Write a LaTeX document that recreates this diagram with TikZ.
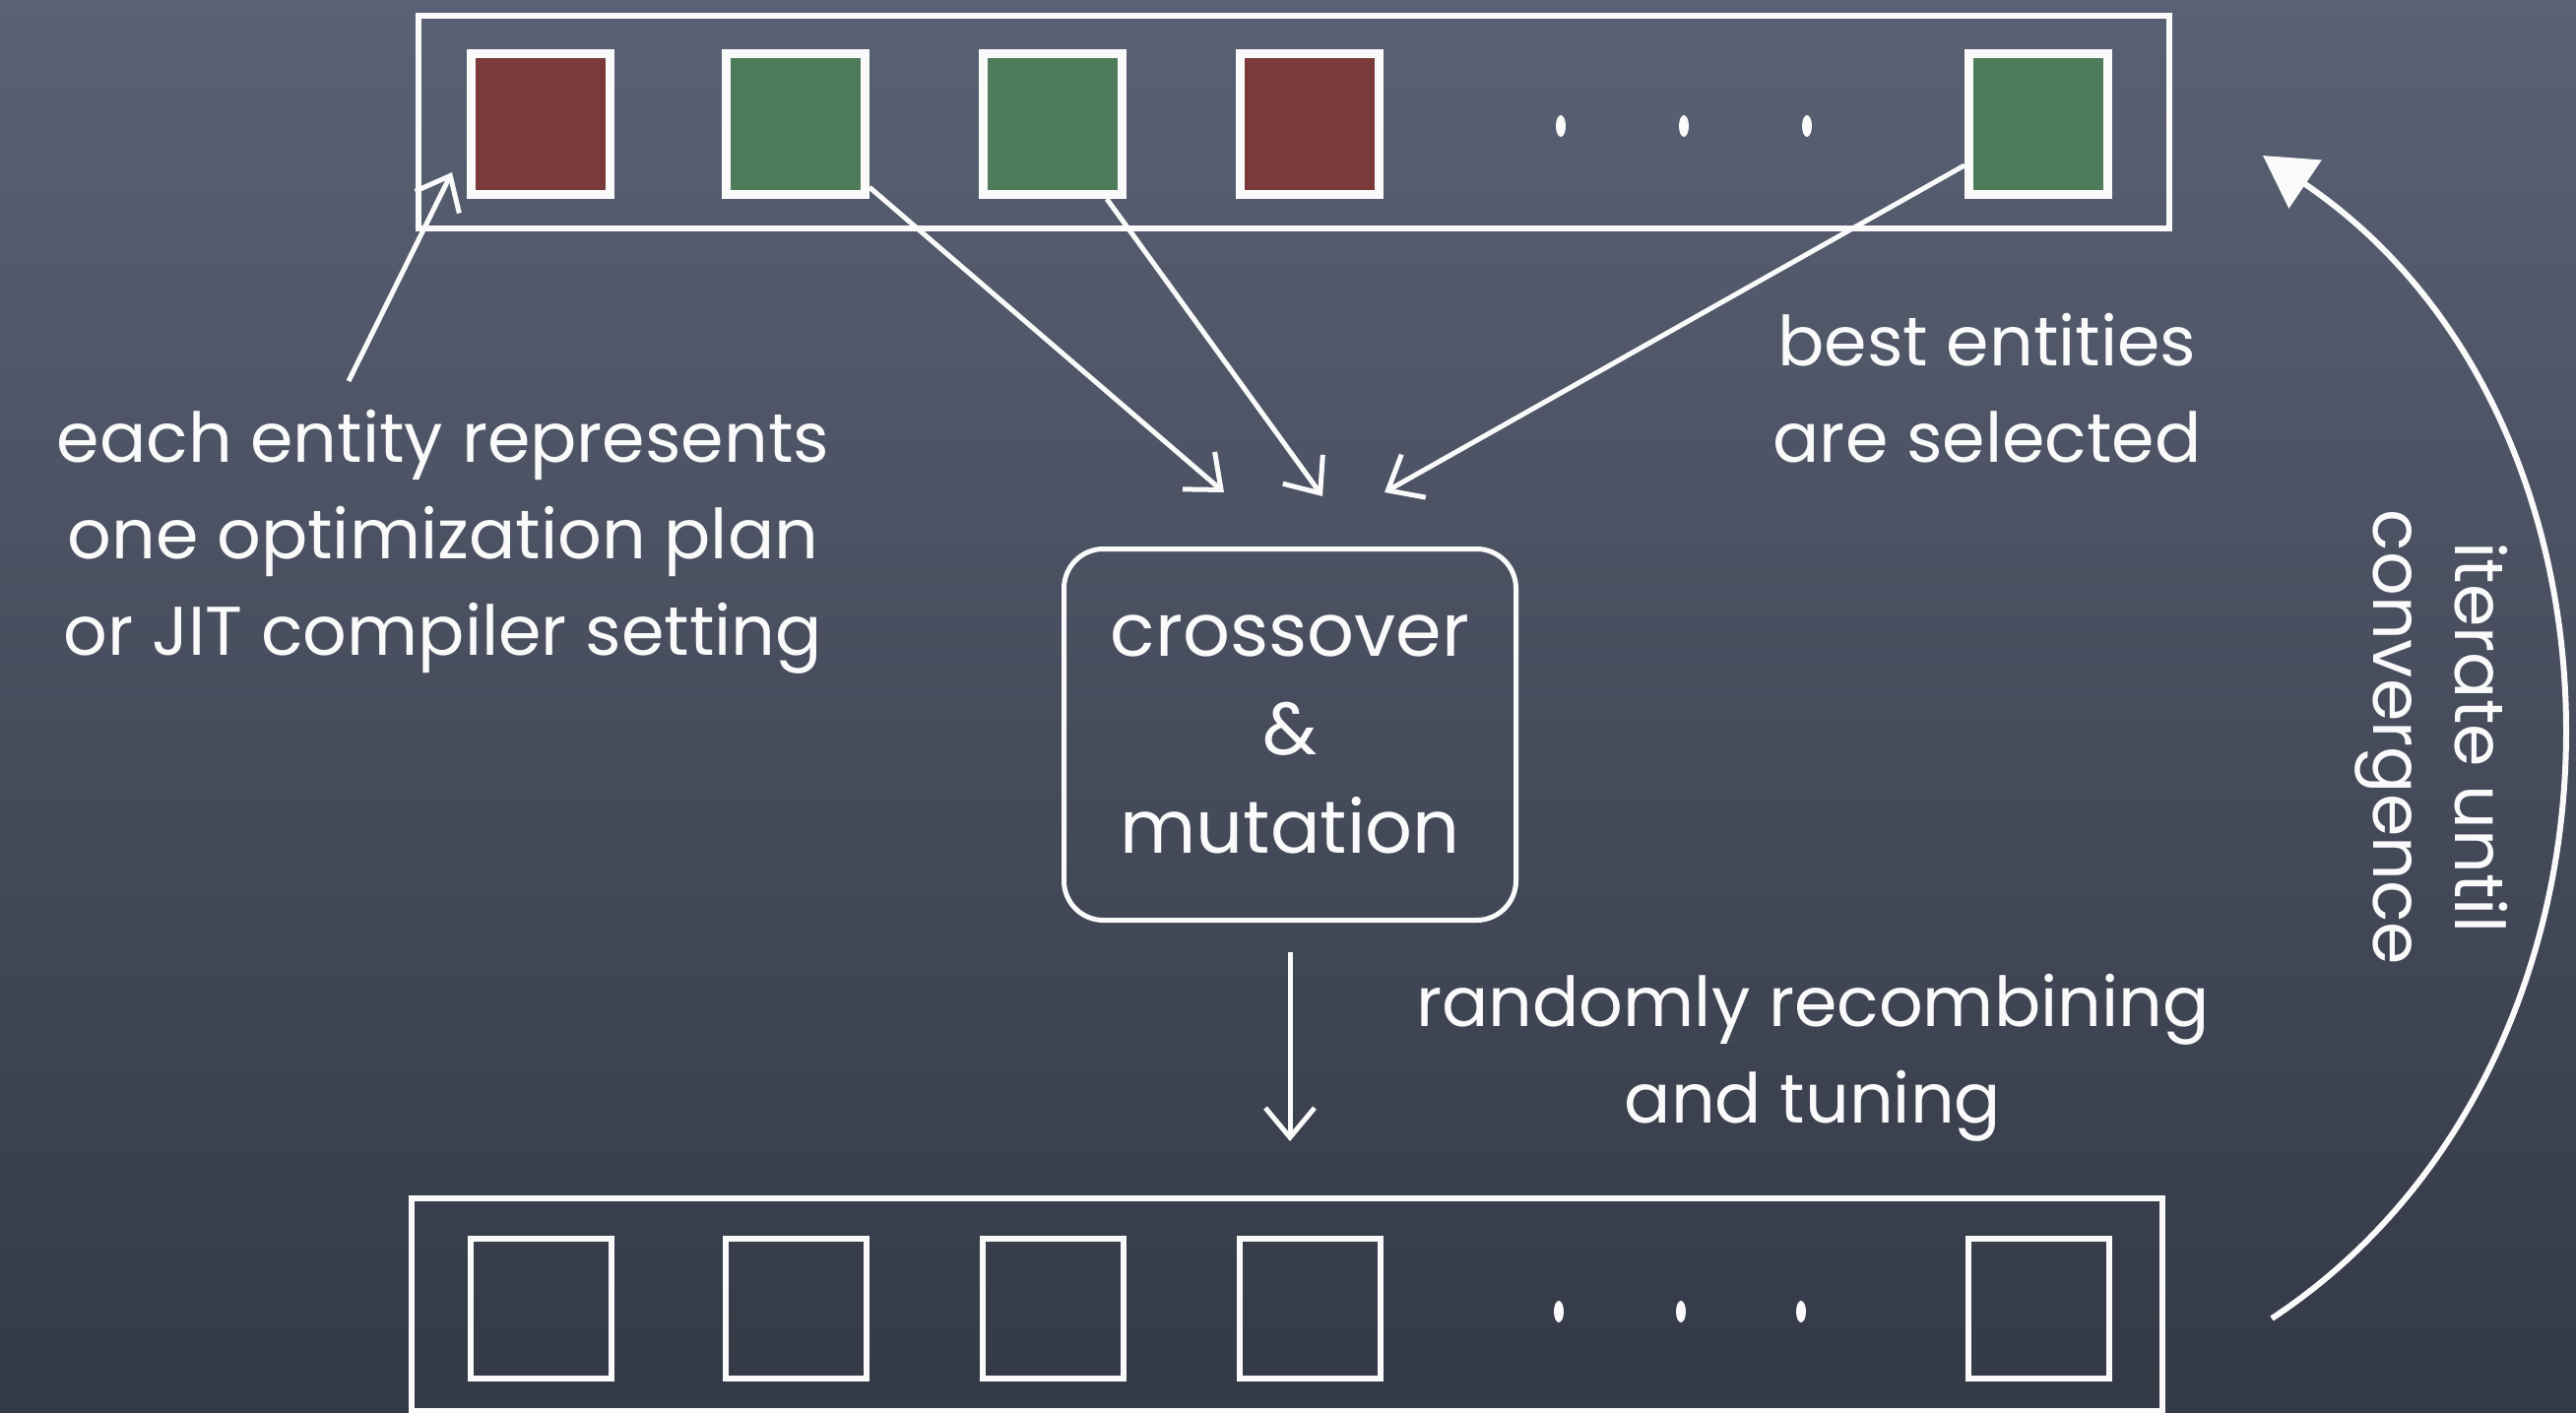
\documentclass[tikz,border=0pt]{standalone}
\usepackage{fontspec}
\setmainfont{Poppins}
\usetikzlibrary{arrows.meta}
\definecolor{boardtop}{RGB}{90,97,116}
\definecolor{boardbot}{RGB}{52,57,70}
\definecolor{chalkred}{RGB}{122,58,58}
\definecolor{chalkgreen}{RGB}{78,124,90}
\definecolor{chalk}{RGB}{250,250,250}
\begin{document}
\begin{tikzpicture}[x=1pt,y=-1pt,
  chalktext/.style={text=chalk, font=\fontsize{70}{98}\selectfont, align=center, inner sep=0pt},
  container/.style={draw=chalk, line width=6pt, minimum width=1778pt, minimum height=216pt, inner sep=0pt},
  fullsq/.style={draw=chalk, line width=9pt, minimum width=141pt, minimum height=143pt, inner sep=0pt},
  redsq/.style={fullsq, fill=chalkred},
  greensq/.style={fullsq, fill=chalkgreen},
  emptysq/.style={draw=chalk, line width=6pt, minimum width=143pt, minimum height=142pt, inner sep=0pt},
  procbox/.style={draw=chalk, line width=5pt, rounded corners=40pt, minimum width=459pt, minimum height=377pt, text=chalk, font=\fontsize{75}{100}\selectfont, align=center, inner sep=0pt},
  arr/.style={draw=chalk, line width=5pt, -{Straight Barb[length=30pt,width=50pt,line width=5pt]}},
  looparr/.style={draw=chalk, line width=6pt, -{Triangle[length=52pt,width=58pt]}},
  dot/.style={fill=chalk}
]
\useasboundingbox (0,0) rectangle (2616,1435);
\fill[top color=boardtop, bottom color=boardbot] (0,0) rectangle (2616,1435);

% top population
\node[container] (top) at (1314,123.5) {};
\node[redsq]   (s1) at (549,126) {};
\node[greensq] (s2) at (808,126) {};
\node[greensq] (s3) at (1069,126) {};
\node[redsq]   (s4) at (1330,126) {};
\node[greensq] (s5) at (2070,126) {};
\fill[dot] (1585,128) ellipse (5 and 11);
\fill[dot] (1710,128) ellipse (5 and 11);
\fill[dot] (1835,128) ellipse (5 and 11);

% bottom population
\node[container] (bot) at (1306.5,1325) {};
\node[emptysq] (b1) at (549,1329) {};
\node[emptysq] (b2) at (808,1329) {};
\node[emptysq] (b3) at (1069,1329) {};
\node[emptysq] (b4) at (1330,1329) {};
\node[emptysq] (b5) at (2070,1329) {};
\fill[dot] (1583,1332) ellipse (5 and 11);
\fill[dot] (1707,1332) ellipse (5 and 11);
\fill[dot] (1829,1332) ellipse (5 and 11);

% crossover box
\node[procbox] (box) at (1310,746) {crossover\\\&\\mutation};

% labels
\node[chalktext] (lefttxt) at (450,550) {each entity represents\\one optimization plan\\or JIT compiler setting};
\node[chalktext] (besttxt) at (2018,394) {best entities\\are selected};
\node[chalktext] (randtxt) at (1841,1074) {randomly recombining\\and tuning};
\node[chalktext, font=\fontsize{70}{83}\selectfont, rotate=-90] (itertxt) at (2469,749) {iterate until\\convergence};

% selection arrows
\coordinate (t1) at (1243,500);
\coordinate (t2) at (1343,504);
\coordinate (t3) at (1406,500);
\draw[arr] (s2) -- (t1);
\draw[arr] (s3) -- (t2);
\draw[arr] (s5) -- (t3);

% entity arrow
\coordinate (e0) at (354,387);
\coordinate (e1) at (459,175);
\draw[arr] (e0) -- (e1);

% down arrow
\draw[arr, shorten <=30pt, shorten >=55pt] (box.south) -- (box.south |- bot.north);

% loop arrow
\coordinate (l0) at (2307,1339);
\coordinate (l1) at (2298,158);
\draw[looparr] (l0) .. controls (2700,1080) and (2700,430) .. (l1);
\end{tikzpicture}
\end{document}
